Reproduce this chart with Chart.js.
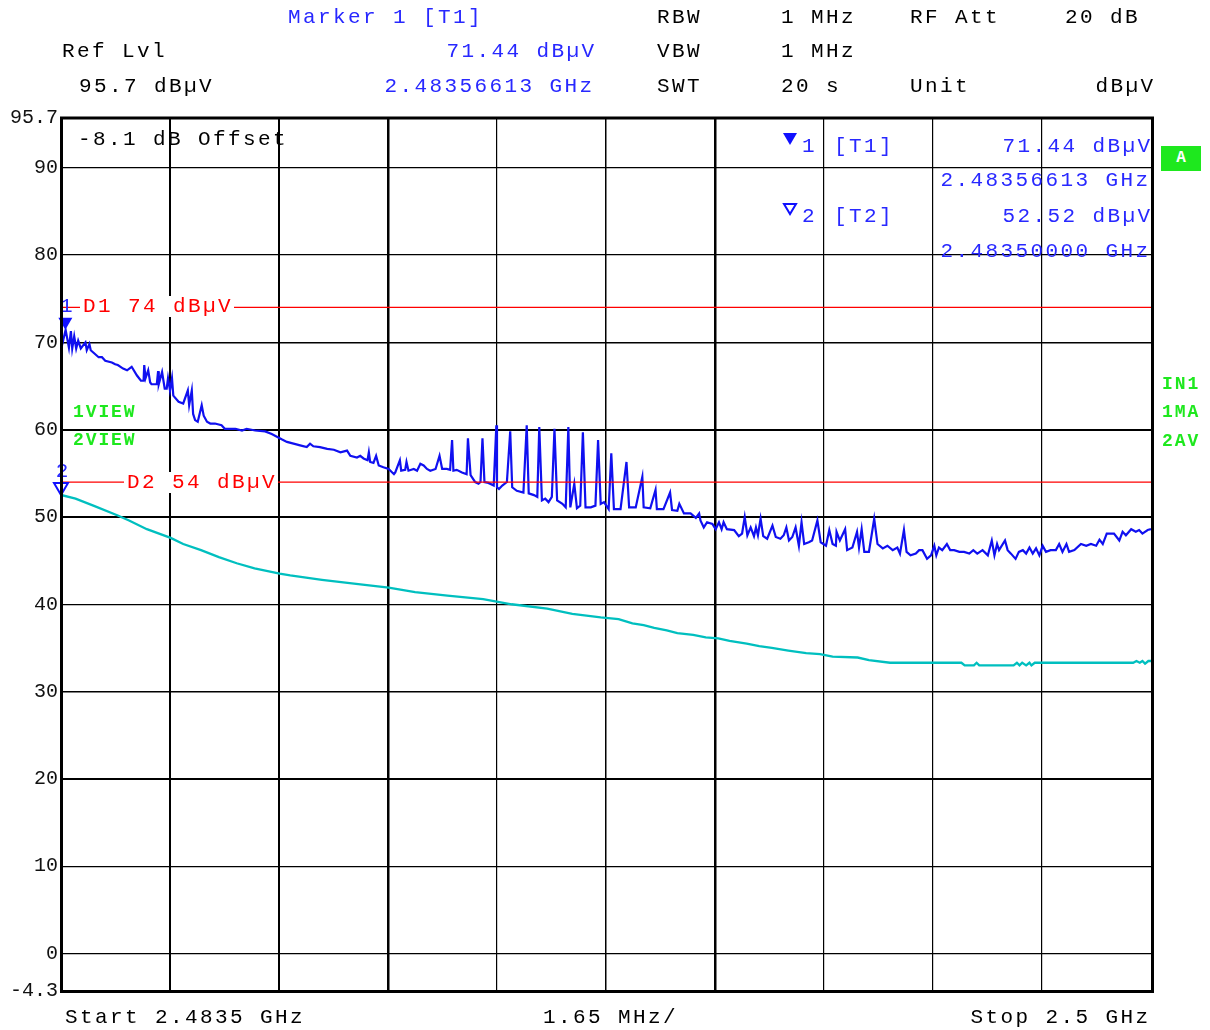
<!DOCTYPE html>
<html><head><meta charset="utf-8">
<script src="https://cdn.jsdelivr.net/npm/chart.js@4.4.1/dist/chart.umd.min.js"></script>
<style>
html,body{margin:0;padding:0;background:#fff;}
#wrap{position:relative;width:1210px;height:1030px;overflow:hidden;background:#fff;}
#c{position:absolute;left:0;top:0;}
.t{position:absolute;white-space:pre;font-family:'Liberation Mono',monospace;font-size:21px;line-height:21px;letter-spacing:2.4px;color:#000;}
.b{font-weight:bold;font-size:18px;line-height:18px;letter-spacing:1.9px;}
#boxA{position:absolute;left:1161px;top:146px;width:40px;height:25px;background:#1ee81e;color:#fff;font:bold 16px 'Liberation Mono',monospace;line-height:25px;text-align:center;}
</style></head><body>
<div id="wrap"><canvas id="c" width="1210" height="1030"></canvas><div id="boxA">A</div></div>
<script>
// ---------- data (frequency as MHz offset from start 2.4835 GHz, level in dBµV) ----------
const spanMHz = [0, 16.5];
const yTickValues = [-4.3, 0, 10, 20, 30, 40, 50, 60, 70, 80, 90, 95.7];
const yTickLabels = ['-4.3', '0', '10', '20', '30', '40', '50', '60', '70', '80', '90', '95.7'];
const xGridTicks = [0, 1.65, 3.3, 4.95, 6.6, 8.25, 9.9, 11.55, 13.2, 14.85, 16.5];

const peakFreq = [
  0.01,0.07,0.12,0.15,0.17,0.20,0.23,0.26,0.30,0.37,
  0.39,0.43,0.45,0.57,0.62,0.67,0.77,0.82,0.86,0.94,
  1.00,1.07,1.15,1.21,1.25,1.26,1.28,1.32,1.35,1.37,
  1.45,1.47,1.48,1.53,1.57,1.60,1.62,1.65,1.68,1.70,
  1.78,1.85,1.92,1.94,1.98,2.00,2.03,2.07,2.13,2.16,
  2.21,2.26,2.33,2.43,2.48,2.64,2.74,2.81,2.94,3.09,
  3.19,3.34,3.42,3.52,3.62,3.72,3.77,3.82,3.92,4.03,
  4.13,4.23,4.33,4.38,4.48,4.53,4.58,4.64,4.66,4.68,
  4.73,4.77,4.81,4.88,4.96,5.04,5.06,5.13,5.15,5.21,
  5.23,5.26,5.34,5.39,5.44,5.49,5.54,5.59,5.67,5.73,
  5.77,5.84,5.89,5.92,5.94,5.99,6.07,6.14,6.16,6.20,
  6.27,6.32,6.35,6.38,6.41,6.47,6.55,6.59,6.60,6.63,
  6.68,6.75,6.80,6.83,6.90,7.00,7.05,7.08,7.16,7.21,
  7.24,7.28,7.33,7.38,7.43,7.47,7.51,7.59,7.64,7.68,
  7.71,7.77,7.81,7.86,7.90,7.94,8.02,8.09,8.13,8.17,
  8.22,8.29,8.33,8.37,8.47,8.56,8.60,8.70,8.80,8.82,
  8.92,9.00,9.02,9.12,9.22,9.25,9.33,9.36,9.43,9.53,
  9.61,9.66,9.68,9.73,9.78,9.86,9.91,9.96,10.00,10.03,
  10.08,10.19,10.26,10.31,10.35,10.39,10.44,10.49,10.52,10.55,
  10.59,10.63,10.69,10.77,10.82,10.89,10.94,10.98,11.02,11.07,
  11.12,11.17,11.21,11.25,11.32,11.37,11.45,11.50,11.58,11.63,
  11.68,11.73,11.74,11.79,11.87,11.90,11.98,12.05,12.08,12.12,
  12.16,12.23,12.31,12.36,12.44,12.51,12.59,12.66,12.70,12.76,
  12.80,12.86,12.94,12.99,13.04,13.11,13.17,13.22,13.25,13.29,
  13.34,13.41,13.46,13.52,13.60,13.67,13.75,13.81,13.87,13.95,
  14.03,14.09,14.13,14.17,14.20,14.29,14.33,14.38,14.45,14.50,
  14.56,14.61,14.66,14.71,14.76,14.81,14.86,14.91,14.98,15.06,
  15.11,15.16,15.22,15.26,15.34,15.44,15.52,15.59,15.67,15.72,
  15.77,15.83,15.94,16.02,16.07,16.12,16.20,16.27,16.32,16.37,
  16.45,16.50
];
const peakLevel = [
  69.5,71.44,69.4,71.3,69.3,70.7,69.3,70.2,69.3,70.0,
  69.1,69.8,69.1,68.3,68.3,67.9,67.7,67.5,67.4,67.0,
  66.8,67.2,66.2,65.6,65.6,67.4,65.9,66.8,65.4,65.2,
  65.2,66.7,65.2,66.6,64.7,64.7,65.9,64.5,65.9,63.9,
  63.2,63.0,64.5,62.8,64.5,61.8,61.1,60.9,62.8,61.6,
  60.9,60.7,60.7,60.5,60.1,60.1,59.9,60.1,59.9,59.8,
  59.5,58.9,58.6,58.4,58.2,58.0,58.4,58.1,58.0,57.8,
  57.7,57.4,57.6,57.0,56.8,57.0,56.7,56.5,57.4,56.3,
  56.2,57.0,55.9,55.7,55.5,54.9,55.1,56.5,55.3,55.4,
  56.3,55.3,55.5,55.3,56.1,55.9,55.5,55.3,55.5,57.0,
  55.5,55.5,55.4,58.8,55.3,55.4,55.1,54.9,59.0,54.8,
  54.0,53.8,54.0,59.0,54.0,53.9,53.6,60.5,53.4,53.2,
  53.6,54.0,59.8,53.4,53.0,52.8,60.5,52.7,52.5,52.3,
  60.3,51.9,52.1,51.7,52.3,60.1,51.9,51.5,51.1,60.3,
  51.1,53.8,51.0,51.3,59.7,51.1,51.1,51.3,58.8,51.5,
  51.7,50.9,57.3,50.9,50.9,56.3,51.1,51.1,54.6,51.1,
  51.0,53.1,50.9,50.9,52.8,50.8,50.7,51.5,50.4,50.4,
  49.9,50.4,49.6,48.8,49.4,49.2,48.6,49.4,48.6,49.4,
  48.6,48.5,47.8,48.1,50.0,47.9,48.8,47.8,48.8,47.9,
  49.8,47.8,47.5,49.0,47.7,47.5,47.9,48.8,47.3,47.7,
  48.8,46.7,49.4,46.9,47.1,47.3,49.6,47.1,46.7,48.5,
  46.9,46.7,48.3,47.3,48.6,46.2,46.5,48.3,46.5,48.6,
  46.0,46.0,49.8,46.9,46.4,46.7,46.2,46.5,45.8,48.5,
  46.0,45.6,45.8,46.2,46.2,45.2,45.6,46.7,45.6,46.5,
  46.2,46.9,46.2,46.2,46.0,46.0,45.8,46.2,45.8,46.2,
  45.6,47.3,45.6,46.9,46.2,47.3,46.2,45.8,45.2,46.0,
  46.2,45.8,46.5,45.8,46.4,45.6,46.7,46.0,46.2,46.2,
  46.9,46.0,46.9,46.0,46.2,46.9,46.7,46.9,46.7,47.4,
  46.9,48.1,48.1,47.3,48.3,47.9,48.6,48.3,48.5,48.1,
  48.5,48.6
];

const avgFreq = [
  0,0.22,0.49,0.85,1.03,1.30,1.66,1.85,2.12,2.39,
  2.66,2.93,3.31,3.47,3.95,4.50,4.96,5.36,5.85,6.39,
  6.82,7.36,7.74,8.17,8.44,8.65,8.82,8.98,9.17,9.33,
  9.57,9.76,9.95,10.12,10.38,10.57,10.76,11.01,11.28,11.49,
  11.68,12.06,12.23,12.55,13.63,13.68,13.82,13.86,13.90,14.42,
  14.47,14.51,14.55,14.61,14.66,14.69,14.74,16.23,16.28,16.33,
  16.37,16.41,16.46,16.50
];
const avgLevel = [
  52.52,52.1,51.3,50.2,49.6,48.6,47.6,46.9,46.2,45.4,
  44.7,44.1,43.5,43.3,42.8,42.3,41.9,41.4,41.0,40.6,
  40.0,39.5,38.9,38.5,38.3,37.8,37.6,37.3,37.0,36.7,
  36.5,36.2,36.1,35.8,35.5,35.2,35.0,34.7,34.4,34.3,
  34.0,33.9,33.6,33.3,33.3,33.0,33.0,33.3,33.0,33.0,
  33.3,33.0,33.3,33.0,33.3,33.0,33.3,33.3,33.5,33.3,
  33.5,33.2,33.5,33.5
];

const limitNames = ['D1', 'D2'];
const limitLevels = [74, 54];
const markerNames = ['1', '2'];
const markerFreq = [0.066, 0.0];
const markerLevel = [71.44, 52.52];

// ---------- styles ----------
const BLUE_TXT = '#2828ff', RED = '#ff0000', GREEN = '#1ee81e';
const yGridWidths = [0, 1.2, 1.2, 2, 1.5, 1.2, 2, 2, 1.5, 1.2, 1.2, 0];
const xGridWidths = [0, 2, 2, 2.5, 1.2, 1.5, 2.5, 1.2, 1.2, 1.2, 0];

const pts = (xs, ys) => xs.map((x, i) => ({x: x, y: ys[i]}));

const framePlugin = {
  id: 'frame',
  afterDatasetsDraw(chart) {
    const ctx = chart.ctx, xs = chart.scales.x, ys = chart.scales.y;
    ctx.save();
    markerFreq.forEach((f, i) => {
      const px = xs.getPixelForValue(f), py = ys.getPixelForValue(markerLevel[i]);
      ctx.beginPath();
      ctx.moveTo(px, py); ctx.lineTo(px - 7, py - 12); ctx.lineTo(px + 7, py - 12); ctx.closePath();
      if (i === 0) { ctx.fillStyle = '#1010ff'; ctx.fill(); }
      else { ctx.strokeStyle = '#1010ff'; ctx.lineWidth = 2; ctx.stroke(); }
      ctx.fillStyle = BLUE_TXT;
      ctx.font = "21px 'Liberation Mono'";
      ctx.textAlign = 'center'; ctx.textBaseline = 'alphabetic';
      ctx.fillText(markerNames[i], px + 1, py - 18);
    });
    ctx.restore();
  },
  afterDraw(chart) {
    const ctx = chart.ctx, a = chart.chartArea;
    ctx.save();
    ctx.strokeStyle = '#000'; ctx.lineWidth = 3;
    ctx.strokeRect(a.left + 0.5, a.top, a.right - a.left + 1, a.bottom - a.top + 0.5);
    // marker legend symbols in the marker info table
    ctx.fillStyle = '#1010ff'; ctx.strokeStyle = '#1010ff'; ctx.lineWidth = 2;
    ctx.beginPath(); ctx.moveTo(783, 133); ctx.lineTo(797, 133); ctx.lineTo(790, 145); ctx.closePath(); ctx.fill();
    ctx.beginPath(); ctx.moveTo(784, 204); ctx.lineTo(796, 204); ctx.lineTo(790, 214); ctx.closePath(); ctx.stroke();
    ctx.restore();
  }
};

new Chart(document.getElementById('c'), {
  type: 'line',
  data: {
    datasets: [
      { label: limitNames[0], data: pts(spanMHz, [limitLevels[0], limitLevels[0]]), borderColor: RED, borderWidth: 1.3, pointRadius: 0, order: 0 },
      { label: limitNames[1], data: pts(spanMHz, [limitLevels[1], limitLevels[1]]), borderColor: RED, borderWidth: 1.3, pointRadius: 0, order: 0 },
      { label: '1 MA', data: pts(peakFreq, peakLevel), borderColor: '#1010f0', borderWidth: 2.2, pointRadius: 0, tension: 0, order: 1 },
      { label: '2 AV', data: pts(avgFreq, avgLevel), borderColor: '#00bfbf', borderWidth: 2.3, pointRadius: 0, tension: 0, order: 2 }
    ]
  },
  options: {
    responsive: false,
    animation: false,
    devicePixelRatio: 1,
    layout: { padding: { left: 0, top: 118, right: 59, bottom: 39 } },
    plugins: { legend: { display: false }, tooltip: { enabled: false } },
    events: [],
    scales: {
      x: {
        type: 'linear', min: spanMHz[0], max: spanMHz[1],
        afterBuildTicks: s => { s.ticks = xGridTicks.map(v => ({ value: v })); },
        afterFit: s => { s.height = 0; },
        ticks: { display: false },
        border: { display: false },
        grid: { color: '#000', drawTicks: false, lineWidth: c => xGridWidths[c.index] }
      },
      y: {
        type: 'linear', min: -4.3, max: 95.7,
        afterBuildTicks: s => { s.ticks = yTickValues.map(v => ({ value: v })); },
        afterFit: s => { s.width = 61; },
        ticks: {
          autoSkip: false, padding: 3, color: '#111',
          font: { family: 'Liberation Mono', size: 20 },
          callback: (v, i) => yTickLabels[i]
        },
        border: { display: false },
        grid: { color: '#000', drawTicks: false, lineWidth: c => yGridWidths[c.index] }
      }
    }
  },
  plugins: [framePlugin]
});

// ---------- text labels ----------
const wrap = document.getElementById('wrap');
function place(text, x, base, o) {
  o = o || {};
  const el = document.createElement('div');
  el.className = 't' + (o.bold ? ' b' : '');
  el.textContent = text;
  const size = o.bold ? 18 : 21;
  const ls = o.bold ? 1.9 : 2.4;
  el.style.top = (base - 0.766 * size) + 'px';
  if (o.right) el.style.right = (1210 - x - ls) + 'px';
  else el.style.left = x + 'px';
  if (o.color) el.style.color = o.color;
  if (o.bg) { el.style.background = o.bg; el.style.paddingLeft = '3px'; el.style.paddingRight = '1px'; el.style.marginLeft = '-3px'; }
  wrap.appendChild(el);
}
// header
place('Marker 1 [T1]', 288, 23, { color: BLUE_TXT });
place('RBW', 657, 23); place('1 MHz', 781, 23); place('RF Att', 910, 23); place('20 dB', 1065, 23);
place('Ref Lvl', 62, 57.5);
place('71.44 dBµV', 594, 57.5, { color: BLUE_TXT, right: true });
place('VBW', 657, 57.5); place('1 MHz', 781, 57.5);
place('95.7 dBµV', 79, 92.5);
place('2.48356613 GHz', 592, 92.5, { color: BLUE_TXT, right: true });
place('SWT', 657, 92.5); place('20 s', 781, 92.5); place('Unit', 910, 92.5);
place('dBµV', 1153, 92.5, { right: true });
// footer
place('Start 2.4835 GHz', 65, 1023);
place('1.65 MHz/', 543, 1023);
place('Stop 2.5 GHz', 1148, 1023, { right: true });
// in-plot annotations
place('-8.1 dB Offset', 78, 145);
place('1', 802, 152, { color: BLUE_TXT });
place('[T1]', 834, 152, { color: BLUE_TXT });
place('71.44 dBµV', 1150, 152, { color: BLUE_TXT, right: true });
place('2.48356613 GHz', 1148, 186, { color: BLUE_TXT, right: true });
place('2', 802, 222, { color: BLUE_TXT });
place('[T2]', 834, 222, { color: BLUE_TXT });
place('52.52 dBµV', 1150, 222, { color: BLUE_TXT, right: true });
place('2.48350000 GHz', 1148, 257, { color: BLUE_TXT, right: true });
place(limitNames[0] + ' ' + limitLevels[0] + ' dBµV', 83, 312, { color: RED, bg: '#fff' });
place(limitNames[1] + ' ' + limitLevels[1] + ' dBµV', 127, 488, { color: RED, bg: '#fff' });
place('1VIEW', 73, 416.5, { bold: true, color: GREEN });
place('2VIEW', 73, 445, { bold: true, color: GREEN });
place('IN1', 1162, 389, { bold: true, color: GREEN });
place('1MA', 1162, 417, { bold: true, color: GREEN });
place('2AV', 1162, 446, { bold: true, color: GREEN });
</script>
</body></html>
